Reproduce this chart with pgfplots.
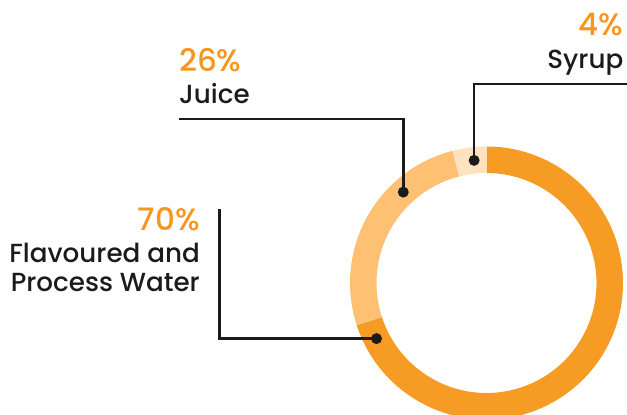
\documentclass[border=0pt]{standalone}
\usepackage{pgfplots}
\pgfplotsset{compat=1.18}
\usepackage{pgfplotstable}
\usepackage{fontspec}
\setmainfont{Poppins}[UprightFont={* Medium}]

\definecolor{water}{HTML}{F69C24}
\definecolor{juice}{HTML}{FEC174}
\definecolor{syrup}{HTML}{FFE3C1}
\definecolor{pct}{HTML}{F7961F}
\definecolor{ink}{HTML}{1B1B1B}

% share in percent; lead = where along its segment the leader line attaches (0..1)
\pgfplotstableread[col sep=comma]{
share,lead
70,0.965
26,0.70
4,0.60
}\shares

\begin{document}
\begin{tikzpicture}
% ring geometry (axis units = 1pt)
\def\cx{486.5}\def\cy{132}
\def\Ro{136.5}\def\ri{110}\def\Rm{123.25}
\pgfmathsetmacro\dr{\Ro-\ri}

\pgfplotstablegetelem{0}{share}\of\shares\edef\sW{\pgfplotsretval}
\pgfplotstablegetelem{1}{share}\of\shares\edef\sJ{\pgfplotsretval}
\pgfplotstablegetelem{2}{share}\of\shares\edef\sS{\pgfplotsretval}
\pgfplotstablegetelem{0}{lead}\of\shares\edef\fW{\pgfplotsretval}
\pgfplotstablegetelem{1}{lead}\of\shares\edef\fJ{\pgfplotsretval}
\pgfplotstablegetelem{2}{lead}\of\shares\edef\fS{\pgfplotsretval}

% segment boundaries, clockwise from 12 o'clock
\pgfmathsetmacro\aA{90}
\pgfmathsetmacro\aB{\aA-3.6*\sW}
\pgfmathsetmacro\aC{\aB-3.6*\sJ}
\pgfmathsetmacro\aD{\aC-3.6*\sS}
% leader attachment angles
\pgfmathsetmacro\dW{\aA-\fW*(\aA-\aB)}
\pgfmathsetmacro\dJ{\aB-\fJ*(\aB-\aC)}
\pgfmathsetmacro\dS{\aC-\fS*(\aC-\aD)}

\newcommand\seg[3]{%
  \fill[#1] (\cx,\cy) ++(#2:\Ro) arc[start angle=#2,end angle=#3,radius=\Ro]
    -- ++(#3:-\dr) arc[start angle=#3,end angle=#2,radius=\ri] -- cycle;}
\newcommand\gap[1]{%
  \draw[white,line width=5pt] (\cx,\cy) ++(#1:\ri-4) -- ++(#1:\dr+8);}

\tikzset{
  leader/.style={ink,line width=2.6pt,line join=miter},
  pctlabel/.style={inner sep=0,text=pct,font=\fontsize{31}{31}\selectfont},
  namelabel/.style={inner sep=0,text=ink,font=\fontsize{26.2}{30}\selectfont},
}

\begin{axis}[
  x=1pt, y=1pt,
  xmin=0, xmax=627, ymin=0, ymax=415,
  hide axis, clip=true,
]
\coordinate (bl) at (rel axis cs:0,0);
\coordinate (tr) at (rel axis cs:1,1);
\seg{water}{\aA}{\aB}
\seg{juice}{\aB}{\aC}
\seg{syrup}{\aC}{\aD}
\gap{\aA}\gap{\aB}\gap{\aC}

% leader lines
\draw[leader] (\cx,\cy) ++(\dW:\Rm) -| (219.5,206);
\draw[leader] (\cx,\cy) ++(\dJ:\Rm) |- (179,296);
\draw[leader] (\cx,\cy) ++(\dS:\Rm) |- (627,331);
\fill[ink] (\cx,\cy) ++(\dW:\Rm) circle[radius=5.5];
\fill[ink] (\cx,\cy) ++(\dJ:\Rm) circle[radius=5.5];
\fill[ink] (\cx,\cy) ++(\dS:\Rm) circle[radius=5.5];

% labels
\node[pctlabel,anchor=base east] at (200,184) {\sW\%};
\node[namelabel,anchor=base east] at (200,152.3) {Flavoured and};
\node[namelabel,anchor=base east] at (200,123) {Process Water};

\node[pctlabel,anchor=base west] at (179,343.3) {\sJ\%};
\node[namelabel,anchor=base west] at (179,311.7) {Juice};

\node[pctlabel,anchor=base east] at (623.5,379) {\sS\%};
\node[namelabel,anchor=base east] at (623.5,346.7) {Syrup};
\end{axis}
\pgfresetboundingbox
\path[use as bounding box] (bl) rectangle (tr);
\end{tikzpicture}
\end{document}
